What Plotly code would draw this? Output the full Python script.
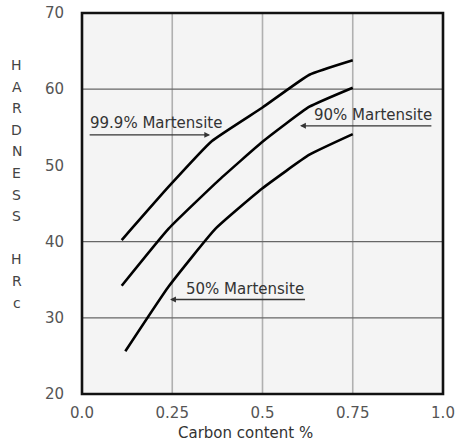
import plotly.graph_objects as go

# ---- data ----
x_999 = [0.11, 0.24, 0.36, 0.50, 0.63, 0.75]
y_999 = [40.2, 47.2, 53.2, 57.6, 61.9, 63.8]

x_90 = [0.11, 0.24, 0.38, 0.50, 0.63, 0.75]
y_90 = [34.2, 41.7, 48.1, 53.1, 57.7, 60.2]

x_50 = [0.12, 0.24, 0.37, 0.50, 0.63, 0.75]
y_50 = [25.6, 34.1, 41.7, 47.0, 51.4, 54.1]

x_tickvals = [0.0, 0.25, 0.5, 0.75, 1.0]
x_ticktext = ["0.0", "0.25", "0.5", "0.75", "1.0"]
y_tickvals = [20, 30, 40, 50, 60, 70]
grid_x = [0.25, 0.5, 0.75]
grid_y = [30, 40, 60]

# label: text, text x, text y, arrow head x, arrow tail x, arrow y
labels = [
    ("99.9% Martensite", 0.205, 55.5, 0.355, 0.017, 54.0),
    ("90% Martensite", 0.806, 56.6, 0.604, 0.972, 55.2),
    ("50% Martensite", 0.452, 33.8, 0.244, 0.622, 32.4),
]

y_title_letters = ["H", "A", "R", "D", "N", "E", "S", "S", "", "H", "R", "c"]

FONT = "DejaVu Sans, Arial"

fig = go.Figure()

for xs, ys in [(x_999, y_999), (x_90, y_90), (x_50, y_50)]:
    fig.add_trace(go.Scatter(x=xs, y=ys, mode="lines",
                             line=dict(color="black", width=2.6, shape="spline", smoothing=0.4),
                             showlegend=False, hoverinfo="skip"))

shapes = []
for gx in grid_x:
    shapes.append(dict(type="line", xref="x", yref="paper", x0=gx, x1=gx, y0=0, y1=1,
                       line=dict(color="#b0b0b0", width=1.6), layer="below"))
for gy in grid_y:
    shapes.append(dict(type="line", xref="paper", yref="y", x0=0, x1=1, y0=gy, y1=gy,
                       line=dict(color="#666666", width=1.3), layer="below"))
shapes.append(dict(type="rect", xref="paper", yref="paper", x0=0, x1=1, y0=0, y1=1,
                   line=dict(color="#111111", width=2.6), layer="above"))

annotations = []
for text, tx, ty, hx, tailx, ay in labels:
    annotations.append(dict(x=tx, y=ty, xref="x", yref="y", text=text, showarrow=False,
                            xanchor="center", yanchor="middle",
                            font=dict(family=FONT, size=15, color="#333333")))
    annotations.append(dict(x=hx, y=ay, xref="x", yref="y", ax=tailx, ay=ay,
                            axref="x", ayref="y", text="", showarrow=True,
                            arrowhead=2, arrowsize=0.9, arrowwidth=1.3, arrowcolor="#333333"))

# vertical stacked y-axis title
top_py, step = 65, 21.6
for i, ch in enumerate(y_title_letters):
    if not ch:
        continue
    py = top_py + i * step
    annotations.append(dict(x=-0.181, y=(394 - py) / 381, xref="paper", yref="paper",
                            text=ch, showarrow=False, xanchor="center", yanchor="middle",
                            font=dict(family=FONT, size=14, color="#444444")))

annotations.append(dict(x=(245 - 82) / 361, y=(394 - 433) / 381, xref="paper", yref="paper",
                        text="Carbon content %", showarrow=False,
                        xanchor="center", yanchor="middle",
                        font=dict(family=FONT, size=15, color="#333333")))

fig.update_layout(
    width=462, height=442,
    margin=dict(l=82, r=19, t=13, b=48, autoexpand=False),
    paper_bgcolor="white", plot_bgcolor="#f4f4f4",
    shapes=shapes, annotations=annotations,
    font=dict(family=FONT, size=15, color="#555555"),
    xaxis=dict(range=[0, 1], tickvals=x_tickvals, ticktext=x_ticktext,
               showgrid=False, zeroline=False, showline=False, automargin=False,
               ticks="outside", ticklen=0, ticklabelstandoff=5),
    yaxis=dict(range=[20, 70], tickvals=y_tickvals,
               showgrid=False, zeroline=False, showline=False, automargin=False,
               ticks="outside", ticklen=0, ticklabelstandoff=14),
)

fig.write_html("out.html", config={"displayModeBar": False},
               post_script="document.body.style.margin='0px';")
